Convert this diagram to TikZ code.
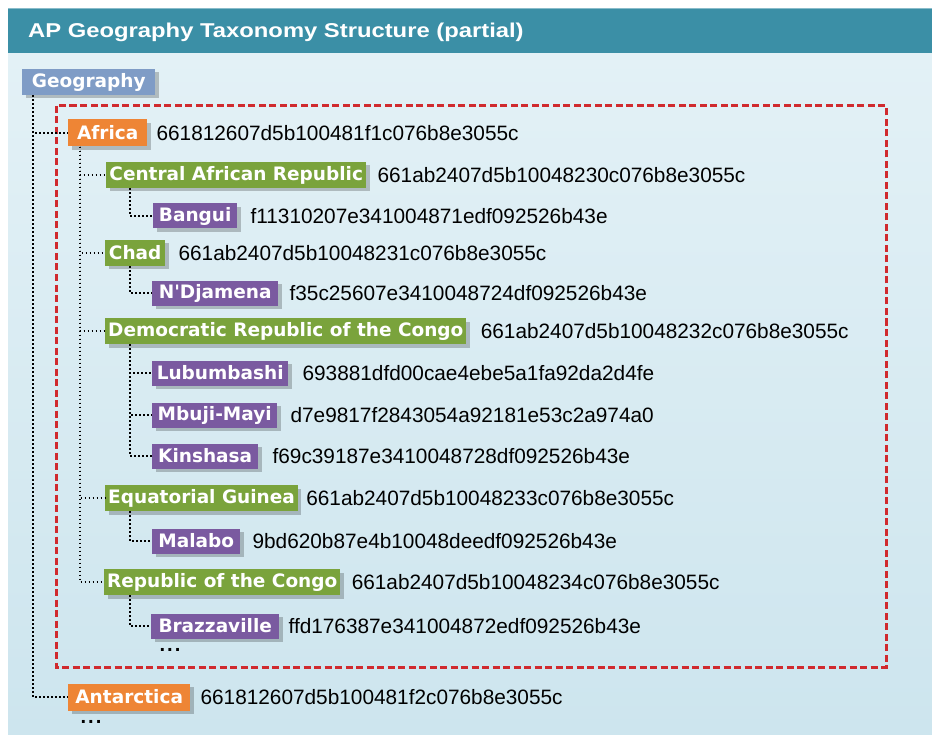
\documentclass[tikz,border=0pt]{standalone}
\usepackage{fontspec}
\usetikzlibrary{shadows,positioning}
\newfontfamily\boxfont{DejaVu Sans}
\newfontfamily\hashfont{Liberation Sans}
\definecolor{hdr}{HTML}{3B8FA6}
\definecolor{bgtop}{HTML}{E3F1F6}
\definecolor{bgbot}{HTML}{CDE5EE}
\definecolor{geoc}{HTML}{7F9CC6}
\definecolor{orc}{HTML}{EE8535}
\definecolor{grc}{HTML}{7AA33C}
\definecolor{puc}{HTML}{7A5AA0}
\definecolor{redc}{HTML}{D02A2E}
\tikzset{
  tag/.style={anchor=west, text=white, inner xsep=3pt, inner ysep=0pt,
    minimum height=26pt, font=\boxfont\bfseries\fontsize{18.5}{19}\selectfont,
    drop shadow={shadow xshift=3.5pt, shadow yshift=-3.5pt, fill=black, opacity=0.22}},
  geotag/.style={tag, fill=geoc},
  ortag/.style={tag, fill=orc, minimum height=27pt},
  grtag/.style={tag, fill=grc},
  putag/.style={tag, fill=puc, minimum height=25pt},
  hash/.style={anchor=west, inner sep=0pt, text=black,
    font=\hashfont\fontsize{20.8}{22}\selectfont},
  tree/.style={draw=black, line width=1.7pt, dash pattern=on 1.7pt off 2.3pt},
  dots/.style={inner sep=0pt, font=\boxfont\bfseries\fontsize{16}{16}\selectfont}
}
\begin{document}
\begin{tikzpicture}[x=1pt,y=-1pt]
\useasboundingbox (0,0) rectangle (932,738);
\fill[white] (0,0) rectangle (932,738);
\shade[top color=bgtop, bottom color=bgbot] (8,53) rectangle (932,734);
\fill[hdr] (8,8) rectangle (932,53);
\draw[color=hdr!60!white, line width=1pt] (8,8.5) -- (932,8.5);
\node[anchor=west, inner sep=0pt, text=white,
  font=\hashfont\bfseries\fontsize{20}{22}\selectfont] (title) at (28,32)
  {\scalebox{1.19}[1]{AP Geography Taxonomy Structure (partial)}};

\draw[redc, line width=3pt, dash pattern=on 7pt off 3.5pt] (56,106) rectangle (886,667);

% nodes
\node[geotag, minimum width=133pt] (geo) at (22,82) {Geography};
\node[ortag, minimum width=79pt] (africa) at (68,133) {Africa};
\node[hash, right=9pt of africa] (h-africa) {661812607d5b100481f1c076b8e3055c};

\node[grtag, minimum width=260pt] (car) at (106,175) {Central African Republic};
\node[hash, right=11pt of car] (h-car) {661ab2407d5b10048230c076b8e3055c};
\node[putag, minimum width=84pt] (bangui) at (153,216) {Bangui};
\node[hash, right=13pt of bangui] (h-bangui) {f11310207e341004871edf092526b43e};

\node[grtag, minimum width=60pt] (chad) at (105,253) {Chad};
\node[hash, right=13pt of chad] (h-chad) {661ab2407d5b10048231c076b8e3055c};
\node[putag, minimum width=126pt] (ndj) at (152,293) {N'Djamena};
\node[hash, right=11pt of ndj] (h-ndj) {f35c25607e3410048724df092526b43e};

\node[grtag, minimum width=361pt] (drc) at (105,331) {Democratic Republic of the Congo};
\node[hash, right=14pt of drc] (h-drc) {661ab2407d5b10048232c076b8e3055c};
\node[putag, minimum width=136pt] (lub) at (152,373) {Lubumbashi};
\node[hash, right=14pt of lub] (h-lub) {693881dfd00cae4ebe5a1fa92da2d4fe};
\node[putag, minimum width=125pt] (mbu) at (152,415) {Mbuji-Mayi};
\node[hash, right=13pt of mbu] (h-mbu) {d7e9817f2843054a92181e53c2a974a0};
\node[putag, minimum width=106pt] (kin) at (152,456) {Kinshasa};
\node[hash, right=14pt of kin] (h-kin) {f69c39187e3410048728df092526b43e};

\node[grtag, minimum width=192pt] (eqg) at (105,498) {Equatorial Guinea};
\node[hash, right=8pt of eqg] (h-eqg) {661ab2407d5b10048233c076b8e3055c};
\node[putag, minimum width=88pt] (mal) at (152,541) {Malabo};
\node[hash, right=12pt of mal] (h-mal) {9bd620b87e4b10048deedf092526b43e};

\node[grtag, minimum width=234pt] (roc) at (104,582) {Republic of the Congo};
\node[hash, right=11pt of roc] (h-roc) {661ab2407d5b10048234c076b8e3055c};
\node[putag, minimum width=128pt] (bra) at (151,626) {Brazzaville};
\node[hash, right=9pt of bra] (h-bra) {ffd176387e341004872edf092526b43e};
\node[dots] (more1) at (170,650) {.\hspace{1.5pt}.\hspace{1.5pt}.};

\node[ortag, minimum width=122pt] (ant) at (68,697) {Antarctica};
\node[hash, right=10pt of ant] (h-ant) {661812607d5b100481f2c076b8e3055c};
\node[dots] (more2) at (91,722) {.\hspace{1.5pt}.\hspace{1.5pt}.};

% connectors
\draw[tree] ([xshift=11pt]geo.south west) |- (africa.west);
\draw[tree] ([xshift=11pt]geo.south west) |- (ant.west);
\draw[tree] ([xshift=12pt]africa.south west) |- (car.west);
\draw[tree] ([xshift=12pt]africa.south west) |- (chad.west);
\draw[tree] ([xshift=12pt]africa.south west) |- (drc.west);
\draw[tree] ([xshift=12pt]africa.south west) |- (eqg.west);
\draw[tree] ([xshift=12pt]africa.south west) |- (roc.west);
\draw[tree] ([xshift=24pt]car.south west) |- (bangui.west);
\draw[tree] ([xshift=25pt]chad.south west) |- (ndj.west);
\draw[tree] ([xshift=25pt]drc.south west) |- (lub.west);
\draw[tree] ([xshift=25pt]drc.south west) |- (mbu.west);
\draw[tree] ([xshift=25pt]drc.south west) |- (kin.west);
\draw[tree] ([xshift=25pt]eqg.south west) |- (mal.west);
\draw[tree] ([xshift=26pt]roc.south west) |- (bra.west);
\end{tikzpicture}
\end{document}
